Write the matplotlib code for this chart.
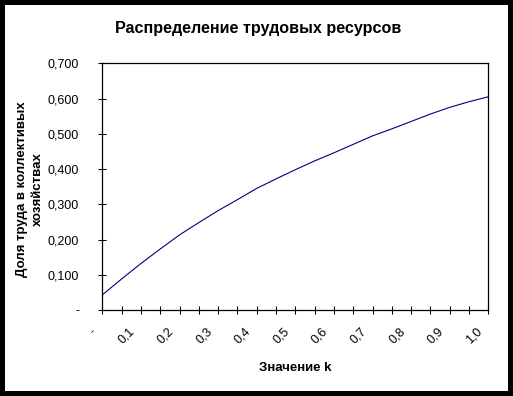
import numpy as np
import matplotlib.pyplot as plt
from matplotlib.patches import Rectangle
from matplotlib.transforms import ScaledTranslation

plt.rcParams['font.family'] = ['Liberation Sans', 'DejaVu Sans']

# значения k и доля труда
k = [0.0, 0.05, 0.1, 0.15, 0.2, 0.25, 0.3, 0.35, 0.4, 0.45, 0.5,
     0.55, 0.6, 0.65, 0.7, 0.75, 0.8, 0.85, 0.9, 0.95, 1.0]
share = [0.043, 0.088, 0.132, 0.173, 0.213, 0.248, 0.282, 0.313, 0.345, 0.372, 0.398,
         0.423, 0.446, 0.470, 0.494, 0.514, 0.535, 0.556, 0.575, 0.591, 0.605]
x_labels = ['-', '0,1', '0,2', '0,3', '0,4', '0,5', '0,6', '0,7', '0,8', '0,9', '1,0']
y_ticks = [0.0, 0.1, 0.2, 0.3, 0.4, 0.5, 0.6, 0.7]
y_labels = ['-', '0,100', '0,200', '0,300', '0,400', '0,500', '0,600', '0,700']

W, H = 513, 396
fig = plt.figure(figsize=(W / 100, H / 100), dpi=100, facecolor='black')
# белое поле внутри чёрной рамки
fig.patches.append(Rectangle((5 / W, 5 / H), 503 / W, 386 / H,
                             transform=fig.transFigure, facecolor='white',
                             edgecolor='none', zorder=-10))

ax = fig.add_axes([102.3 / W, (H - 310) / H, 386 / W, 246.7 / H])
ax.plot(k, share, color='#000080', linewidth=0.8)

ax.set_xlim(k[0], k[-1])
ax.set_ylim(0, 0.7)

ax.set_xticks(k)
ax.set_xticklabels([x_labels[i // 2] if i % 2 == 0 else '' for i in range(len(k))],
                   rotation=45, ha='right', va='center', rotation_mode='anchor')
ax.set_yticks(y_ticks)
ax.set_yticklabels(y_labels)

ax.tick_params(direction='inout', length=5.5, width=0.75, labelsize=9, colors='black')
ax.tick_params(axis='y', pad=14)
ax.tick_params(axis='x', pad=11.5)
for sp in ax.spines.values():
    sp.set_linewidth(0.9)

offset = ScaledTranslation(-8 / 100, 0, fig.dpi_scale_trans)
for lab in ax.get_xticklabels():
    lab.set_transform(lab.get_transform() + offset)

fig.text(258.5 / W, 1 - 28 / H, 'Распределение трудовых ресурсов',
         ha='center', va='center', fontsize=11.6, fontweight='bold')
fig.text(295.3 / W, 1 - 368 / H, 'Значение k',
         ha='center', va='center', fontsize=9.5, fontweight='bold')
fig.text(30 / W, 1 - 189 / H, 'Доля труда в коллективых\nхозяйствах',
         ha='center', va='center', rotation=90, fontsize=9.5,
         fontweight='bold', linespacing=1.5)

fig.savefig('out.png', dpi=100, facecolor='black')
